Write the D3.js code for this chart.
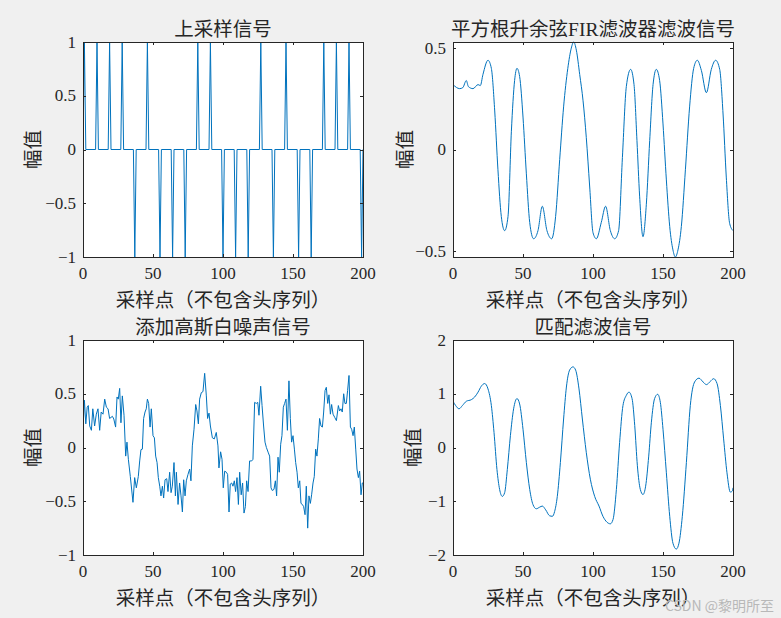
<!DOCTYPE html>
<html><head><meta charset="utf-8">
<script src="https://cdn.jsdelivr.net/npm/d3@7"></script>
<style>
body{margin:0;background:#f0f0f0;}
svg{display:block;}
text{font-family:"Liberation Serif","Noto Sans CJK SC",serif;fill:#262626;}
</style></head><body>
<svg id="c" width="781" height="618"></svg>
<script>
// ---------- data ----------
const titles = ["上采样信号", "平方根升余弦FIR滤波器滤波信号", "添加高斯白噪声信号", "匹配滤波信号"];
const xLabel = "采样点（不包含头序列）";
const yLabel = "幅值";
const xTicks = [0, 50, 100, 150, 200];
const yTicksUp = [-1, -0.5, 0, 0.5, 1];
const yTicksRrc = [-0.5, 0, 0.5];
const yTicksNoise = [-1, -0.5, 0, 0.5, 1];
const yTicksMf = [-2, -1, 0, 1, 2];

// upsampled symbols (non-zero samples), all other samples are 0
const upPos = [1,10,19,28,37,46,55,64,73,82,91,100,109,118,127,136,145,154,163,172,181,190,199];
const upVal = [1,1,1,1,-1,1,-1,-1,-1,1,1,-1,-1,-1,1,-1,1,-1,-1,1,1,1,-1];

// RRC filtered signal [x, y]
const rrcPts = [[0,0.32],[4.8,0.30],[7,0.305],[9.5,0.34],[11,0.31],[14.3,0.30],[17.9,0.32],[19.5,0.315],[21.4,0.37],[25,0.44],
[27.4,0.40],[29.8,0.19],[32.1,-0.10],[34.5,-0.33],[36.9,-0.40],[39.3,-0.33],[41.7,0.09],[44,0.34],[45.7,0.40],[47.6,0.36],
[50,0.16],[52.4,-0.12],[54.8,-0.36],[57.6,-0.44],[60.7,-0.40],[63.8,-0.28],[67.1,-0.40],[70.5,-0.44],[73.3,-0.33],[76.2,-0.05],
[79,0.21],[82,0.40],[84.5,0.50],[86.2,0.53],[88.1,0.49],[90.5,0.37],[92.9,0.24],[95.2,0.06],[97.6,-0.18],[100,-0.41],
[102.4,-0.44],[105.9,-0.36],[109,-0.28],[112.4,-0.40],[115.5,-0.44],[118.3,-0.40],[121,-0.04],[123.8,0.31],[126.9,0.395],[129.3,0.32],
[131.4,0.044],[133.3,-0.23],[135.7,-0.43],[138.1,-0.27],[140.5,0.044],[142.9,0.32],[145.2,0.395],[147.6,0.34],[150,0.126],[152.4,-0.15],
[154.8,-0.38],[157.1,-0.495],[158.8,-0.53],[160.7,-0.495],[163.1,-0.38],[166,-0.10],[169,0.21],[171.9,0.40],[174.5,0.44],[177.4,0.39],
[181,0.28],[184.5,0.395],[187.6,0.44],[190.5,0.395],[192.9,0.175],[195.2,-0.136],[197.6,-0.364],[200,-0.40]];

// noisy signal [x, y]
const noisePts = [[0,0.17],[1,0.44],[2,0.22],[3,0.375],[3.8,0.39],[4.8,0.20],[6,0.16],[7,0.36],[8.3,0.20],[9.5,0.31],
[10.7,0.36],[11.9,0.16],[13,0.33],[14.3,0.31],[15.5,0.45],[16.7,0.375],[17.9,0.36],[19,0.27],[21,0.29],[22,0.265],
[23.3,0.19],[24.3,0.47],[25.2,0.45],[26.2,0.55],[27.1,0.23],[28.1,0.48],[29.3,0.30],[30.5,-0.08],[31.4,0.05],[32.4,-0.11],
[33.8,-0.27],[35.7,-0.51],[36.9,-0.28],[38.1,-0.375],[39.5,-0.27],[40.5,-0.125],[41.4,-0.02],[42.4,-0.015],[43.3,0.27],[44.3,0.33],
[45.2,0.36],[46,0.45],[46.9,0.41],[47.9,0.19],[48.8,0.36],[50,0.11],[51,0.09],[51.9,-0.08],[52.9,-0.14],[53.8,-0.28],
[54.8,-0.36],[55.7,-0.45],[56.7,-0.36],[57.6,-0.47],[58.6,-0.30],[59.8,-0.29],[60.7,-0.41],[61.9,-0.23],[62.9,-0.42],[63.8,-0.36],
[65,-0.14],[66,-0.45],[66.7,-0.23],[67.9,-0.53],[69,-0.33],[70,-0.45],[71,-0.60],[71.9,-0.30],[72.9,-0.45],[73.8,-0.31],
[75,-0.25],[76.2,-0.20],[77.1,-0.31],[78.1,0.015],[79.3,0.17],[80.5,0.40],[81.4,0.34],[82.4,0.22],[83.3,0.45],[84.5,0.51],
[85.7,0.52],[86.9,0.69],[88.1,0.48],[89,0.27],[90,0.32],[91,0.20],[92.4,0.09],[93.8,0.08],[95.2,0.14],[96.4,0.015],
[97.1,-0.19],[98.3,-0.04],[99.3,-0.11],[100.2,-0.375],[101.2,-0.22],[102.4,-0.23],[103.3,-0.25],[104.3,-0.60],[105.2,-0.34],[106.2,-0.33],
[107.1,-0.36],[108.1,-0.31],[109,-0.41],[110,-0.28],[111,-0.53],[111.9,-0.23],[113,-0.44],[114,-0.33],[115,-0.61],[116,-0.55],
[116.9,-0.31],[117.9,-0.41],[119,-0.125],[120.5,-0.125],[121.4,-0.11],[122.6,0.42],[123.8,0.41],[124.8,0.42],[125.7,0.30],[126.9,0.57],
[127.9,0.39],[129,0.20],[130,0.05],[131,0],[132.4,-0.05],[133.3,-0.08],[134.3,-0.375],[135.2,-0.40],[136.4,-0.39],[137.4,-0.31],
[138.3,-0.45],[139.3,-0.09],[140.2,-0.23],[141.2,0.03],[142.1,0.11],[143.1,0.375],[144,0.41],[145,0.45],[146,0.16],[147.1,0.62],
[148.1,0.27],[149,0.05],[150,0.11],[151,-0.015],[151.9,-0.14],[152.9,-0.23],[153.8,-0.375],[154.8,-0.31],[155.7,-0.52],[156.7,-0.53],
[157.6,-0.55],[158.6,-0.625],[159.5,-0.36],[160.5,-0.75],[161.4,-0.45],[162.4,-0.52],[163.3,-0.44],[164.3,-0.33],[165.2,-0.27],[166.2,-0.015],
[167.1,-0.08],[168.1,0.08],[169,0.27],[170,0.20],[171,0.19],[171.9,0.33],[172.9,0.53],[173.8,0.56],[174.8,0.41],[175.7,0.49],
[176.7,0.31],[177.6,0.40],[178.6,0.31],[179.8,0.28],[181,0.25],[182.4,0.39],[183.3,0.34],[184.3,0.36],[185.2,0.33],[186.2,0.50],
[187.1,0.41],[188.1,0.41],[189,0.53],[190,0.67],[191,0.19],[191.9,0.17],[192.9,0.11],[193.8,0.19],[194.8,-0.015],[195.7,-0.20],
[196.7,-0.28],[197.6,-0.22],[198.6,-0.44],[199.5,-0.33],[200,-0.33]];

// matched filter output [x, y]
const mfPts = [[0,0.86],[1.9,0.78],[4.3,0.72],[6.7,0.78],[9.5,0.86],[13.1,0.89],[15.5,0.94],[17.9,1.03],[20.2,1.14],[22.6,1.19],
[25,1.09],[27.4,0.78],[29.3,0.28],[31.4,-0.41],[33.3,-0.78],[35.2,-0.91],[36.9,-0.84],[38.8,-0.41],[41,0.22],[43.3,0.72],
[45.7,0.91],[47.6,0.81],[50,0.34],[52.4,-0.28],[54.8,-0.78],[57.1,-1.06],[59.5,-1.14],[61.9,-1.11],[63.8,-1.09],[66.2,-1.16],
[69,-1.27],[71,-1.28],[72.6,-1.19],[74.5,-0.91],[76.7,-0.28],[79,0.53],[81,1.125],[83.3,1.44],[85.7,1.50],[87.6,1.44],
[90,1.09],[92.4,0.53],[95.2,-0.09],[98.1,-0.59],[101.2,-0.91],[104.3,-1.09],[107.1,-1.28],[110,-1.39],[112.4,-1.42],[114.3,-1.34],
[116.7,-0.78],[119,0.09],[121.4,0.78],[123.8,0.97],[125.7,1.03],[127.9,0.91],[129.8,0.41],[131.7,-0.34],[133.8,-0.78],[135.7,-0.875],
[137.6,-0.72],[139.8,-0.16],[141.7,0.47],[144,0.91],[146.2,0.99],[148.1,0.84],[150,0.34],[152.4,-0.47],[154.8,-1.28],[157.1,-1.78],
[159.5,-1.89],[161.4,-1.78],[163.8,-1.28],[166.7,-0.28],[169.5,0.78],[172.6,1.22],[175.7,1.29],[178.6,1.22],[181,1.17],[183.8,1.23],
[186.2,1.28],[188.6,1.19],[191,0.78],[193.3,0.16],[195.7,-0.47],[198.1,-0.83],[199.5,-0.81],[200,-0.75]];

// build the upsampled sequence: zeros with the symbol samples inserted
const upPts = [[0,0]];
upPos.forEach((p,i)=>{ upPts.push([p-1,0],[p,upVal[i]],[p+1,0]); });

// ---------- layout ----------
const W = 280, H = 215;
const panels = [
  {x0:83,  y0:42,  pts:upPts,    ydom:[-1,1], yt:yTicksUp,    curve:d3.curveLinear,     ylo:50, title:titles[0]},
  {x0:453, y0:42,  pts:rrcPts,   ydom:d3.extent(rrcPts,d=>d[1]), yt:yTicksRrc, curve:d3.curveMonotoneX, ylo:48, title:titles[1]},
  {x0:83,  y0:340, pts:noisePts, ydom:[-1,1], yt:yTicksNoise, curve:d3.curveLinear,     ylo:50, title:titles[2]},
  {x0:453, y0:340, pts:mfPts,    ydom:[-2,2], yt:yTicksMf,    curve:d3.curveMonotoneX, ylo:40, title:titles[3]}
];
const fmt = v => (v<0 ? "\u2212" : "") + String(Math.abs(v));
const svg = d3.select("#c");
const axCol = "#262626", tl = 3;

panels.forEach((p,i)=>{
  const x = d3.scaleLinear().domain([0,200]).range([p.x0, p.x0+W]);
  const y = d3.scaleLinear().domain(p.ydom).range([p.y0+H, p.y0]);
  const g = svg.append("g");
  g.append("rect").attr("x",p.x0).attr("y",p.y0).attr("width",W).attr("height",H).attr("fill","#fff");
  const clipId = "clip"+i;
  g.append("clipPath").attr("id",clipId).append("rect")
    .attr("x",p.x0).attr("y",p.y0-1).attr("width",W+1).attr("height",H+2);
  const line = d3.line().x(d=>x(d[0])).y(d=>y(d[1])).curve(p.curve);
  g.append("path").datum(p.pts).attr("d",line).attr("fill","none")
    .attr("stroke","#0072BD").attr("stroke-width",1).attr("clip-path",`url(#${clipId})`);

  // ticks (inside, mirrored)
  const tk = g.append("g").attr("stroke",axCol).attr("stroke-width",1);
  xTicks.forEach(t=>{
    const xx = Math.round(x(t))+0.5;
    tk.append("line").attr("x1",xx).attr("x2",xx).attr("y1",p.y0+H).attr("y2",p.y0+H-tl);
    tk.append("line").attr("x1",xx).attr("x2",xx).attr("y1",p.y0).attr("y2",p.y0+tl);
  });
  p.yt.forEach(t=>{
    const yy = Math.round(y(t))+0.5;
    tk.append("line").attr("x1",p.x0).attr("x2",p.x0+tl).attr("y1",yy).attr("y2",yy);
    tk.append("line").attr("x1",p.x0+W).attr("x2",p.x0+W-tl).attr("y1",yy).attr("y2",yy);
  });
  g.append("rect").attr("x",p.x0+0.5).attr("y",p.y0+0.5).attr("width",W).attr("height",H)
    .attr("fill","none").attr("stroke",axCol).attr("stroke-width",1);

  // tick labels
  xTicks.forEach(t=>{
    g.append("text").attr("x",x(t)).attr("y",p.y0+H+22).attr("text-anchor","middle")
      .attr("font-size","17px").text(fmt(t));
  });
  p.yt.forEach(t=>{
    g.append("text").attr("x",p.x0-7).attr("y",y(t)).attr("dy","0.33em").attr("text-anchor","end")
      .attr("font-size","17px").text(fmt(t));
  });
  // title, labels
  g.append("text").attr("x",p.x0+W/2).attr("y",p.y0-13).attr("text-anchor","middle")
    .attr("dominant-baseline","central").attr("font-size","19.5px").text(p.title);
  g.append("text").attr("x",p.x0+W/2).attr("y",p.y0+H+43).attr("text-anchor","middle")
    .attr("dominant-baseline","central").attr("font-size","19.5px").text(xLabel);
  g.append("text").attr("transform",`translate(${p.x0-p.ylo},${p.y0+H/2}) rotate(-90)`)
    .attr("text-anchor","middle").attr("dominant-baseline","central")
    .attr("font-size","19.5px").text(yLabel);
});

svg.append("text").attr("x",774).attr("y",605).attr("text-anchor","end")
  .attr("dominant-baseline","central").attr("font-size","14px")
  .style("font-family","'Noto Sans CJK SC',sans-serif").style("fill","#b8b8b8")
  .text("CSDN @黎明所至");
</script>
</body></html>
